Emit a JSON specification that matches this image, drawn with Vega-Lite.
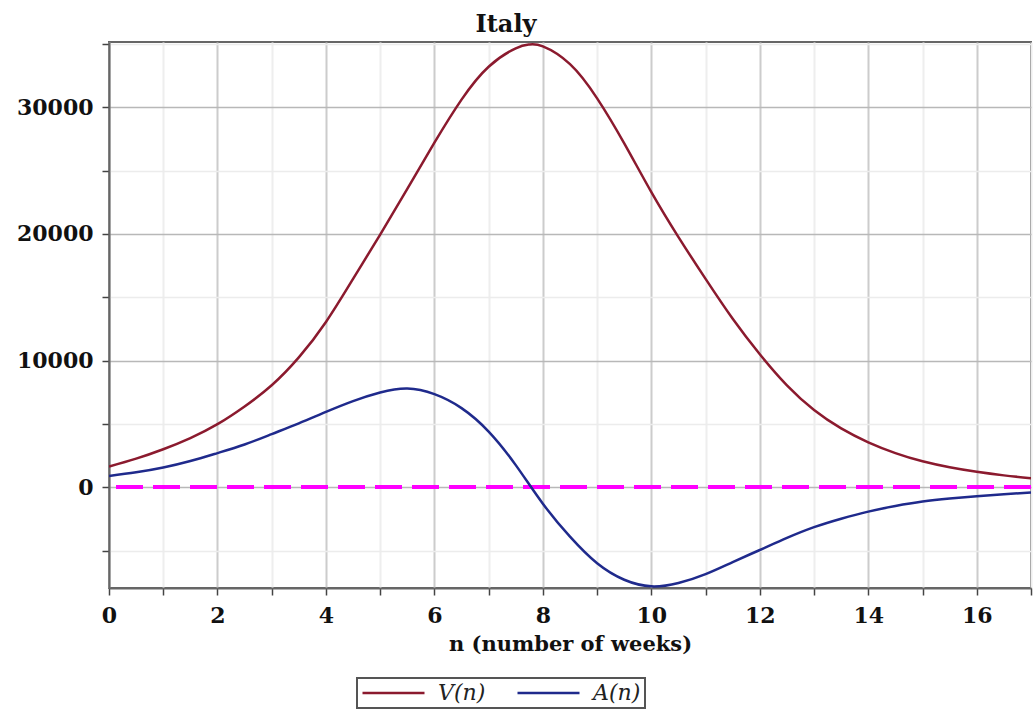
{
  "$schema": "https://vega.github.io/schema/vega-lite/v6.json",
  "autosize": {"type": "none"},
  "width": 922,
  "height": 546,
  "padding": {"left": 109, "top": 42, "right": 5, "bottom": 121},
  "background": "white",
  "title": {
    "text": "Italy",
    "frame": "group",
    "font": "DejaVu Serif",
    "fontSize": 24,
    "fontWeight": "bold",
    "color": "#111",
    "anchor": "middle",
    "dx": -64,
    "dy": 32,
    "baseline": "alphabetic",
    "offset": 9
  },
  "data": {
    "values": [
      {"n": 0, "value": 1640, "series": "V(n)"},
      {"n": 0.5, "value": 2260, "series": "V(n)"},
      {"n": 1, "value": 3000, "series": "V(n)"},
      {"n": 1.5, "value": 3880, "series": "V(n)"},
      {"n": 2, "value": 4980, "series": "V(n)"},
      {"n": 2.5, "value": 6380, "series": "V(n)"},
      {"n": 3, "value": 8050, "series": "V(n)"},
      {"n": 3.5, "value": 10250, "series": "V(n)"},
      {"n": 4, "value": 13050, "series": "V(n)"},
      {"n": 4.5, "value": 16450, "series": "V(n)"},
      {"n": 5, "value": 19950, "series": "V(n)"},
      {"n": 5.5, "value": 23550, "series": "V(n)"},
      {"n": 6, "value": 27200, "series": "V(n)"},
      {"n": 6.5, "value": 30600, "series": "V(n)"},
      {"n": 7, "value": 33200, "series": "V(n)"},
      {"n": 7.5, "value": 34650, "series": "V(n)"},
      {"n": 7.75, "value": 34950, "series": "V(n)"},
      {"n": 8, "value": 34800, "series": "V(n)"},
      {"n": 8.5, "value": 33400, "series": "V(n)"},
      {"n": 9, "value": 30700, "series": "V(n)"},
      {"n": 9.5, "value": 27150, "series": "V(n)"},
      {"n": 10, "value": 23300, "series": "V(n)"},
      {"n": 10.5, "value": 19750, "series": "V(n)"},
      {"n": 11, "value": 16450, "series": "V(n)"},
      {"n": 11.5, "value": 13300, "series": "V(n)"},
      {"n": 12, "value": 10500, "series": "V(n)"},
      {"n": 12.5, "value": 8050, "series": "V(n)"},
      {"n": 13, "value": 6100, "series": "V(n)"},
      {"n": 13.5, "value": 4650, "series": "V(n)"},
      {"n": 14, "value": 3550, "series": "V(n)"},
      {"n": 14.5, "value": 2700, "series": "V(n)"},
      {"n": 15, "value": 2050, "series": "V(n)"},
      {"n": 15.5, "value": 1580, "series": "V(n)"},
      {"n": 16, "value": 1220, "series": "V(n)"},
      {"n": 16.5, "value": 940, "series": "V(n)"},
      {"n": 17, "value": 720, "series": "V(n)"},
      {"n": 0, "value": 900, "series": "A(n)"},
      {"n": 0.5, "value": 1180, "series": "A(n)"},
      {"n": 1, "value": 1560, "series": "A(n)"},
      {"n": 1.5, "value": 2070, "series": "A(n)"},
      {"n": 2, "value": 2700, "series": "A(n)"},
      {"n": 2.5, "value": 3380, "series": "A(n)"},
      {"n": 3, "value": 4200, "series": "A(n)"},
      {"n": 3.5, "value": 5050, "series": "A(n)"},
      {"n": 4, "value": 5950, "series": "A(n)"},
      {"n": 4.5, "value": 6800, "series": "A(n)"},
      {"n": 5, "value": 7480, "series": "A(n)"},
      {"n": 5.5, "value": 7790, "series": "A(n)"},
      {"n": 6, "value": 7350, "series": "A(n)"},
      {"n": 6.5, "value": 6250, "series": "A(n)"},
      {"n": 7, "value": 4400, "series": "A(n)"},
      {"n": 7.5, "value": 1750, "series": "A(n)"},
      {"n": 8, "value": -1300, "series": "A(n)"},
      {"n": 8.5, "value": -3900, "series": "A(n)"},
      {"n": 9, "value": -6000, "series": "A(n)"},
      {"n": 9.5, "value": -7300, "series": "A(n)"},
      {"n": 10, "value": -7820, "series": "A(n)"},
      {"n": 10.5, "value": -7550, "series": "A(n)"},
      {"n": 11, "value": -6850, "series": "A(n)"},
      {"n": 11.5, "value": -5900, "series": "A(n)"},
      {"n": 12, "value": -4950, "series": "A(n)"},
      {"n": 12.5, "value": -4000, "series": "A(n)"},
      {"n": 13, "value": -3150, "series": "A(n)"},
      {"n": 13.5, "value": -2480, "series": "A(n)"},
      {"n": 14, "value": -1920, "series": "A(n)"},
      {"n": 14.5, "value": -1480, "series": "A(n)"},
      {"n": 15, "value": -1130, "series": "A(n)"},
      {"n": 15.5, "value": -890, "series": "A(n)"},
      {"n": 16, "value": -700, "series": "A(n)"},
      {"n": 16.5, "value": -540, "series": "A(n)"},
      {"n": 17, "value": -410, "series": "A(n)"}
    ]
  },
  "layer": [
    {
      "mark": {"type": "rule", "color": "#ff00ff", "strokeWidth": 3, "strokeDash": [27, 10]},
      "encoding": {"y": {"datum": 0, "type": "quantitative"}}
    },
    {
      "mark": {"type": "line", "strokeWidth": 2.5, "interpolate": "natural", "clip": true},
      "encoding": {
        "x": {
          "field": "n",
          "type": "quantitative",
          "scale": {"domain": [0, 17], "nice": false, "zero": false},
          "axis": {
            "values": [0, 1, 2, 3, 4, 5, 6, 7, 8, 9, 10, 11, 12, 13, 14, 15, 16, 17],
            "labelExpr": "datum.value % 2 === 0 ? datum.label : ''",
            "title": "n (number of weeks)",
            "grid": true,
            "gridColor": {"condition": {"test": "datum.value % 2 === 0", "value": "#cccccc"}, "value": "#eeeeee"},
            "gridWidth": 2,
            "domainColor": "#666",
            "domainWidth": 2,
            "tickColor": "#444",
            "tickWidth": 1.5,
            "tickSize": 7,
            "labelPadding": 10,
            "labelFont": "DejaVu Serif",
            "labelFontSize": 22,
            "labelFontWeight": "bold",
            "labelColor": "#111",
            "labelFlush": false,
            "labelOverlap": false,
            "titleFont": "DejaVu Serif",
            "titleFontSize": 21,
            "titleFontWeight": "bold",
            "titleColor": "#111",
            "titlePadding": 7
          }
        },
        "y": {
          "field": "value",
          "type": "quantitative",
          "scale": {"domain": [-7950, 35150], "nice": false, "zero": false},
          "axis": {
            "values": [-5000, 0, 5000, 10000, 15000, 20000, 25000, 30000, 35000],
            "format": "d",
            "labelExpr": "datum.value % 10000 === 0 ? datum.label : ''",
            "title": null,
            "grid": true,
            "gridColor": {"condition": {"test": "datum.value % 10000 === 0", "value": "#b8b8b8"}, "value": "#ececec"},
            "gridWidth": 1.5,
            "domainColor": "#666",
            "domainWidth": 2,
            "tickColor": "#444",
            "tickWidth": 1.5,
            "tickSize": 7,
            "labelPadding": 9,
            "labelFont": "DejaVu Serif",
            "labelFontSize": 22,
            "labelFontWeight": "bold",
            "labelColor": "#111",
            "labelOverlap": false
          }
        },
        "color": {
          "field": "series",
          "type": "nominal",
          "scale": {"domain": ["V(n)", "A(n)"], "range": ["#8b1a2e", "#1f2a8c"]},
          "legend": {
            "title": null,
            "orient": "none",
            "legendX": 248,
            "legendY": 636,
            "direction": "horizontal",
            "symbolType": "stroke",
            "symbolSize": 3844,
            "symbolStrokeWidth": 2.5,
            "clipHeight": 22,
            "labelOffset": 12,
            "labelFont": "DejaVu Serif",
            "labelFontStyle": "italic",
            "labelFontSize": 22,
            "labelColor": "#222",
            "columnPadding": 30,
            "padding": 4,
            "strokeColor": "#555"
          }
        }
      }
    }
  ],
  "config": {
    "view": {"stroke": "#666", "strokeWidth": 2},
    "legend": {"strokeWidth": 2}
  }
}
